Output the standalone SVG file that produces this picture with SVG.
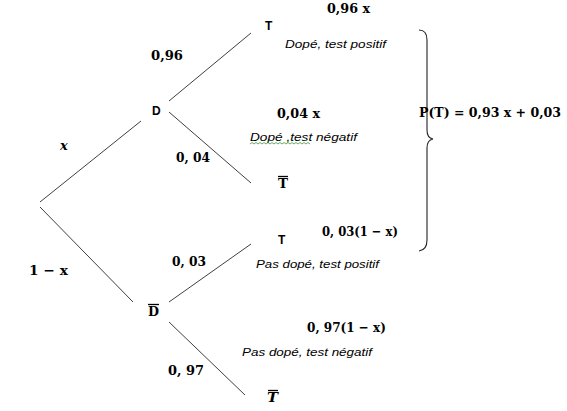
<svg xmlns="http://www.w3.org/2000/svg" width="567" height="411" viewBox="0 0 567 411">
<style>
.edge{stroke:#404040;stroke-width:1;fill:none}
.node{font-family:"Liberation Sans",Arial,sans-serif;font-weight:bold;font-size:12px;fill:#000}
.math{font-family:"DejaVu Serif","Liberation Serif",serif;font-weight:bold;font-size:13px;fill:#000}
.note{font-family:"Liberation Sans",Arial,sans-serif;font-style:italic;font-size:11.5px;fill:#000}
.bar{stroke:#000;stroke-width:1.3}
</style>
<rect width="567" height="411" fill="#fff"/>
<g id="connectors">
<line class="edge" x1="40" y1="202" x2="141" y2="121"/>
<line class="edge" x1="40" y1="207" x2="133" y2="302"/>
<line class="edge" x1="169" y1="101" x2="251" y2="33"/>
<line class="edge" x1="169" y1="112" x2="251" y2="183"/>
<line class="edge" x1="169" y1="302" x2="251" y2="244"/>
<line class="edge" x1="169" y1="322" x2="245" y2="395"/>
</g>
<g id="edge-labels">
<text class="math" x="60" y="150" font-style="italic">x</text>
<text class="math" x="29" y="275" textLength="39" lengthAdjust="spacingAndGlyphs">1 − x</text>
<text class="math" x="151" y="60" textLength="32" lengthAdjust="spacingAndGlyphs">0,96</text>
<text class="math" x="176" y="162" textLength="34" lengthAdjust="spacingAndGlyphs">0, 04</text>
<text class="math" x="172" y="266" textLength="34" lengthAdjust="spacingAndGlyphs">0, 03</text>
<text class="math" x="168" y="375" textLength="36" lengthAdjust="spacingAndGlyphs">0, 97</text>
</g>
<g id="node-D">
<text class="node" x="152" y="115">D</text>
</g>
<g id="node-Dbar">
<text class="math" x="148" y="316" textLength="11" lengthAdjust="spacingAndGlyphs">D</text>
<line class="bar" x1="148" y1="304.5" x2="159" y2="304.5"/>
</g>
<g id="node-T1">
<text class="node" x="265" y="30">T</text>
<text class="math" x="327" y="13" textLength="43" lengthAdjust="spacingAndGlyphs">0,96 x</text>
<text class="note" x="285" y="48" textLength="101" lengthAdjust="spacingAndGlyphs">Dopé, test positif</text>
</g>
<g id="node-Tbar1">
<text class="math" x="278" y="188" textLength="10" lengthAdjust="spacingAndGlyphs">T</text>
<line class="bar" x1="278" y1="176.5" x2="288" y2="176.5"/>
<text class="math" x="277" y="118" textLength="43" lengthAdjust="spacingAndGlyphs">0,04 x</text>
<text class="note" x="250" y="141" textLength="107" lengthAdjust="spacingAndGlyphs">Dopé ,test négatif</text>
<path d="M250,144 l2,-1.5 l2,1.5 l2,-1.5 l2,1.5 l2,-1.5 l2,1.5 l2,-1.5 l2,1.5 l2,-1.5 l2,1.5 l2,-1.5 l2,1.5 l2,-1.5 l2,1.5 l2,-1.5 l2,1.5 l2,-1.5 l2,1.5 l2,-1.5 l2,1.5 l2,-1.5 l2,1.5 l2,-1.5 l2,1.5 l2,-1.5 l2,1.5 l2,-1.5 l2,1.5 l2,-1.5 l2,1.5" fill="none" stroke="#3c9a3c" stroke-width="0.8"/>
</g>
<g id="node-T2">
<text class="node" x="278" y="244">T</text>
<text class="math" x="322" y="236" textLength="76" lengthAdjust="spacingAndGlyphs">0, 03(1 − x)</text>
<text class="note" x="256" y="268" textLength="123" lengthAdjust="spacingAndGlyphs">Pas dopé, test positif</text>
</g>
<g id="node-Tbar2">
<text class="math" x="267" y="402" font-style="italic" textLength="11" lengthAdjust="spacingAndGlyphs">T</text>
<line class="bar" x1="268" y1="390.5" x2="278" y2="390.5"/>
<text class="math" x="307" y="332" textLength="79" lengthAdjust="spacingAndGlyphs">0, 97(1 − x)</text>
<text class="note" x="242" y="356" textLength="130" lengthAdjust="spacingAndGlyphs">Pas dopé, test négatif</text>
</g>
<g id="brace">
<path d="M419,30 Q427,30 427,40 L427,130 Q427,138 433,139 Q427,140 427,148 L427,240 Q427,250 419,251" fill="none" stroke="#222" stroke-width="1.1"/>
<text class="math" x="419" y="117" font-size="12.5" textLength="142" lengthAdjust="spacingAndGlyphs">P(T) = 0,93 x + 0,03</text>
</g>
</svg>
